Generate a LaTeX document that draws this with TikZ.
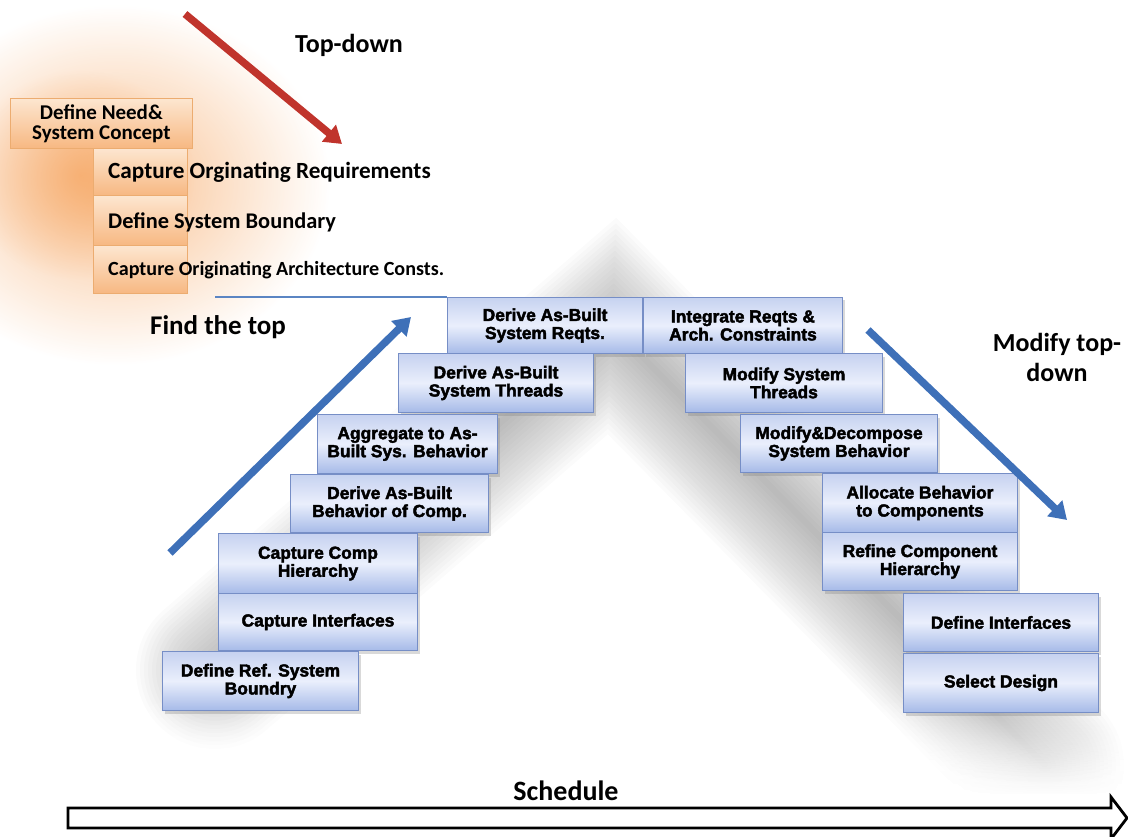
\documentclass[tikz,border=0pt]{standalone}
\usepackage{fontspec}
\setmainfont{Liberation Sans}
\newfontfamily\calib{Carlito}
\newfontfamily\boxfont{Liberation Sans Bold}[FakeBold=2.5]
\usetikzlibrary{arrows.meta,shadows,fadings}

\tikzfading[name=softglow, inner color=transparent!0, outer color=transparent!100]
\tikzfading[name=fadebottom, top color=transparent!100, bottom color=transparent!0]

\definecolor{boxtop}{RGB}{198,210,240}
\definecolor{boxmid}{RGB}{234,239,252}
\definecolor{boxbot}{RGB}{166,186,232}
\definecolor{boxline}{RGB}{118,142,198}
\definecolor{orgtop}{RGB}{253,230,208}
\definecolor{orgbot}{RGB}{247,184,130}
\definecolor{orgline}{RGB}{236,172,112}
\definecolor{arrowblue}{RGB}{62,112,184}
\definecolor{arrowred}{RGB}{192,52,44}
\definecolor{glowc}{RGB}{244,150,70}

\begin{document}
\begin{tikzpicture}[x=1pt,y=-1pt,
  bluebox/.style 2 args={draw=boxline, line width=1pt, top color=boxtop,
    bottom color=boxbot, middle color=boxmid, inner sep=0pt, anchor=north west,
    align=center, minimum width=#1pt, minimum height=#2pt,
    font=\boxfont\fontsize{17.4}{18}\selectfont,
    drop shadow={shadow xshift=2pt, shadow yshift=-3pt, opacity=0.3}},
  orgbox/.style 2 args={draw=orgline, line width=0.8pt, top color=orgtop,
    bottom color=orgbot, inner sep=0pt, anchor=north west,
    minimum width=#1pt, minimum height=#2pt},
  orgtext/.style={anchor=west, inner sep=0pt, font=\calib\bfseries\fontsize{#1}{#1}\selectfont},
  heading/.style={inner sep=0pt, align=center, font=\calib\bfseries\fontsize{#1}{30}\selectfont},
  bigarrow/.style={line width=7.5pt, -{Triangle[length=17pt,width=21pt]}}
]
\useasboundingbox (0,0) rectangle (1128,837);

% soft grey band along the staircase
\foreach \w in {6,14,...,158} {
  \draw[black, opacity=0.017, line width=\w pt, line join=miter, line cap=round]
    (215,670) -- (612,326) -- (1045,765);
}
% let the band die away towards the bottom
\fill[white, path fading=fadebottom] (0,700) rectangle (1128,795);
\fill[white] (0,794) rectangle (1128,837);

% orange glow behind the opening steps
\fill[glowc, opacity=0.6, path fading=softglow] (115,185) ellipse [x radius=215pt, y radius=180pt];
\fill[glowc, opacity=0.5, path fading=softglow] (80,175) ellipse [x radius=115pt, y radius=105pt];

% opening (orange) steps
\node[orgbox={182}{50}] (o1) at (10,98) {};
\node[inner sep=0pt, align=center, font=\calib\bfseries\fontsize{21}{20}\selectfont]
  (o1t) at (o1.center) {Define Need\&\\System Concept};
\node[orgbox={94}{47}] (o2) at (93,148) {};
\node[orgbox={94}{50}] (o3) at (93,195) {};
\node[orgbox={94}{48}] (o4) at (93,245) {};
\node[orgtext=23.2] (o2t) at (108,172) {Capture Orginating Requirements};
\node[orgtext=22.4] (o3t) at (108,222) {Define System Boundary};
\node[orgtext=20.1] (o4t) at (108,270) {Capture Originating Architecture Consts.};

% rising staircase
\node[bluebox={195}{56}] (b1) at (447,297) {Derive As-Built\\System Reqts.};
\node[bluebox={199}{56}] (b2) at (643,297) {Integrate Reqts \&\\Arch. Constraints};
\node[bluebox={195}{59}] (b3) at (398,353) {Derive As-Built\\System Threads};
\node[bluebox={197}{59}] (b4) at (685,353) {Modify System\\Threads};
\node[bluebox={180}{59}] (b5) at (317,414) {Aggregate to As-\\Built Sys. Behavior};
\node[bluebox={197}{58}] (r1) at (740,414) {Modify\&Decompose\\System Behavior};
\node[bluebox={198}{58}] (b6) at (290,474) {Derive As-Built\\Behavior of Comp.};
\node[bluebox={195}{59}] (r2) at (822,473) {Allocate Behavior\\to Components};
\node[bluebox={199}{60}] (b7) at (218,533) {Capture Comp\\Hierarchy};
\node[bluebox={195}{58}] (r3) at (822,532) {Refine Component\\Hierarchy};
\node[bluebox={199}{57}] (b8) at (218,593) {Capture Interfaces};
\node[bluebox={195}{58}] (r4) at (903,593) {Define Interfaces};
\node[bluebox={196}{59}] (b9) at (162,651) {Define Ref. System\\Boundry};
\node[bluebox={195}{59}] (r5) at (903,653) {Select Design};

% top edge extension
\coordinate (lineL) at (215,297);
\draw[arrowblue!85, line width=1.2pt] (lineL) -- (b1.north west);

% direction arrows
\coordinate (rs) at (185,14);
\coordinate (re) at (342,144);
\draw[arrowred, bigarrow] (rs) -- (re);
\coordinate (ls) at (170,553);
\coordinate (le) at (411,317);
\draw[arrowblue, bigarrow] (ls) -- (le);
\coordinate (ms) at (868,330);
\coordinate (me) at (1067,520);
\draw[arrowblue, bigarrow] (ms) -- (me);

% headings
\node[heading=26] (topdown) at (349,45) {Top-down};
\node[heading=27] (findtop) at (218,327) {Find the top};
\node[heading=26] (modtop) at (1057,357) {Modify top-\\down};
\node[heading=28] (sched) at (566,791) {Schedule};

% schedule arrow
\draw[line width=2.8pt, fill=white, line join=miter]
  (68,808) -- (1111,808) -- (1111,797) -- (1127,818) -- (1111,839)
  -- (1111,828) -- (68,828) -- cycle;
\end{tikzpicture}
\end{document}
